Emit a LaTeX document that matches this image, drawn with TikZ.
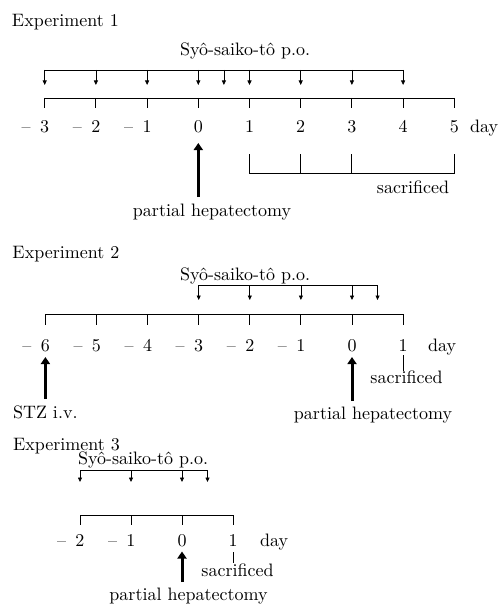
\documentclass[tikz,border=0pt]{standalone}
\usepackage{fontspec}
\setmainfont{lmroman10-regular.otf}
\usetikzlibrary{arrows.meta}
\begin{document}
\begin{tikzpicture}[x=1pt,y=-1pt,
  txt/.style={font=\fontsize{18}{21}\selectfont, inner sep=0pt, outer sep=0pt},
  rule/.style={line width=0.9pt},
  dose/.style={line width=0.8pt, -{Triangle[length=4.5pt,width=4pt]}},
  surgery/.style={line width=3pt, -{Triangle[length=7pt,width=9pt]}},
  faint/.style={line width=0.6pt},
]
\useasboundingbox (0,0) rectangle (498,607);

% ---------------- Experiment 1 ----------------
\node[txt, anchor=base west] (ex1) at (12,26.5) {Experiment 1};
\node[txt, anchor=base west] (drug1) at (180,56) {Syô-saiko-tô p.o.};

% dosing bracket
\foreach \d [count=\k] in {-3,-2,-1,0,0.5,1,2,3,4} {
  \coordinate (e1ds\k) at ({198.3+51.2*\d},70);
  \coordinate (e1de\k) at ({198.3+51.2*\d},85);
}
\draw[rule] (e1ds1) -- (e1ds9);
\foreach \k in {1,...,9} \draw[dose] (e1ds\k) -- (e1de\k);

% time axis with day labels
\foreach \d [count=\k] in {-3,...,5} {
  \coordinate (e1t\k) at ({198.3+51.2*\d},98);
  \coordinate (e1b\k) at ({198.3+51.2*\d},108);
}
\draw[rule] (e1t1) -- (e1t9);
\foreach \k in {1,...,9} \draw[rule] (e1t\k) -- (e1b\k);
\foreach \d [count=\k] in {3,2,1} \node[txt, anchor=base] (e1n\k) at ({198.3-51.2*\d},132) {\llap{–\hspace{9.5pt}}\d};
\foreach \d [count=\k from 4] in {0,...,5} \node[txt, anchor=base] (e1n\k) at ({198.3+51.2*\d},132) {\d};
\node[txt, anchor=base west] (e1day) at (470,132) {day};

% partial hepatectomy
\coordinate (e1pb) at (198.3,197);
\coordinate (e1pt) at (198.3,143);
\draw[surgery] (e1pb) -- (e1pt);
\node[txt, anchor=base] (e1ph) at (212,216.5) {partial hepatectomy};

% sacrifice bracket
\foreach \d in {1,2,3,5} {
  \coordinate (e1s\d) at ({198.3+51.2*\d},154);
  \coordinate (e1sb\d) at ({198.3+51.2*\d},173);
}
\draw[rule] (e1s1) -- (e1sb1) -- (e1sb5) -- (e1s5);
\draw[rule] (e1s2) -- (e1sb2);
\draw[rule] (e1s3) -- (e1sb3);
\node[txt, anchor=base] (e1sac) at (413,193) {sacrificed};

% ---------------- Experiment 2 ----------------
\node[txt, anchor=base west] (ex2) at (12.5,258) {Experiment 2};
\node[txt, anchor=base west] (drug2) at (180,280) {Syô-saiko-tô p.o.};

\foreach \d [count=\k] in {-3,-2,-1,0,0.5} {
  \coordinate (e2ds\k) at ({352+51.1*\d},285);
  \coordinate (e2de\k) at ({352+51.1*\d},300);
}
\draw[rule] (e2ds1) -- (e2ds5);
\foreach \k in {1,...,5} \draw[dose] (e2ds\k) -- (e2de\k);

\foreach \d [count=\k] in {-6,...,1} {
  \coordinate (e2t\k) at ({352+51.1*\d},314);
  \coordinate (e2b\k) at ({352+51.1*\d},325);
}
\draw[rule] (e2t1) -- (e2t8);
\foreach \k in {1,...,8} \draw[rule] (e2t\k) -- (e2b\k);
\foreach \d [count=\k] in {6,5,4,3,2,1} \node[txt, anchor=base] (e2n\k) at ({352-51.1*\d},351.5) {\llap{–\hspace{9.5pt}}\d};
\node[txt, anchor=base] (e2n7) at (352,351.5) {0};
\node[txt, anchor=base] (e2n8) at (403.1,351.5) {1};
\node[txt, anchor=base west] (e2day) at (428,351.5) {day};

% STZ injection
\coordinate (e2zb) at (45.4,399);
\coordinate (e2zt) at (45.4,357);
\draw[surgery] (e2zb) -- (e2zt);
\node[txt, anchor=base west] (e2stz) at (13,418) {STZ i.v.};

% partial hepatectomy
\coordinate (e2pb) at (352,401);
\coordinate (e2pt) at (352,357);
\draw[surgery] (e2pb) -- (e2pt);
\node[txt, anchor=base] (e2ph) at (373,419) {partial hepatectomy};

% sacrifice
\coordinate (e2s) at (403.1,355);
\coordinate (e2se) at (403.1,371);
\draw[faint] (e2s) -- (e2se);
\node[txt, anchor=base] (e2sac) at (406.5,383) {sacrificed};

% ---------------- Experiment 3 ----------------
\node[txt, anchor=base west] (ex3) at (13,450) {Experiment 3};
\node[txt, anchor=base west] (drug3) at (78,464.5) {Syô-saiko-tô p.o.};

\foreach \d [count=\k] in {-2,-1,0,0.5} {
  \coordinate (e3ds\k) at ({182+51*\d},470);
  \coordinate (e3de\k) at ({182+51*\d},482);
}
\draw[rule] (e3ds1) -- (e3ds4);
\foreach \k in {1,...,4} \draw[dose] (e3ds\k) -- (e3de\k);

\foreach \d [count=\k] in {-2,...,1} {
  \coordinate (e3t\k) at ({182+51*\d},515);
  \coordinate (e3b\k) at ({182+51*\d},525);
}
\draw[rule] (e3t1) -- (e3t4);
\foreach \k in {1,...,4} \draw[rule] (e3t\k) -- (e3b\k);
\node[txt, anchor=base] (e3n1) at (80,546.5) {\llap{–\hspace{9.5pt}}2};
\node[txt, anchor=base] (e3n2) at (131,546.5) {\llap{–\hspace{9.5pt}}1};
\node[txt, anchor=base] (e3n3) at (182,546.5) {0};
\node[txt, anchor=base] (e3n4) at (233,546.5) {1};
\node[txt, anchor=base west] (e3day) at (260,546.5) {day};

% partial hepatectomy
\coordinate (e3pb) at (182,582);
\coordinate (e3pt) at (182,551.5);
\draw[surgery] (e3pb) -- (e3pt);
\node[txt, anchor=base] (e3ph) at (188.5,600) {partial hepatectomy};

% sacrifice
\coordinate (e3s) at (233,552);
\coordinate (e3se) at (233,563);
\draw[faint] (e3s) -- (e3se);
\node[txt, anchor=base] (e3sac) at (237.5,576.5) {sacrificed};
\end{tikzpicture}
\end{document}
